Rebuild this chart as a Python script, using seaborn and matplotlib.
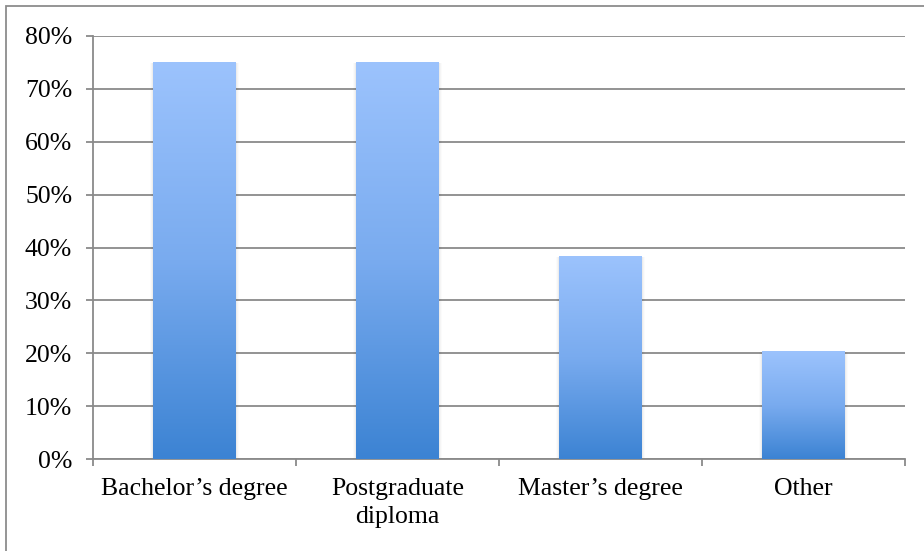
import numpy as np
import pandas as pd
import matplotlib
matplotlib.use("Agg")
import matplotlib.pyplot as plt
import seaborn as sns
from matplotlib.colors import LinearSegmentedColormap
from matplotlib.patches import Rectangle

# Qualification held by respondents (share of respondents)
categories = ["Bachelor\u2019s degree", "Postgraduate\ndiploma", "Master\u2019s degree", "Other"]
shares = [0.75, 0.75, 0.384, 0.204]
y_ticks = [0.0, 0.1, 0.2, 0.3, 0.4, 0.5, 0.6, 0.7, 0.8]
y_tick_labels = ["0%", "10%", "20%", "30%", "40%", "50%", "60%", "70%", "80%"]

df = pd.DataFrame({"category": categories, "share": shares})

sns.set_theme(style="white")
plt.rcParams["font.family"] = ["Liberation Serif", "DejaVu Serif"]

grid_col = "#8a8a8a"
fig = plt.figure(figsize=(9.24, 5.51), dpi=100)
ax = fig.add_axes([93 / 924, 1 - 459 / 551, (905 - 93) / 924, (459 - 36) / 551])

sns.barplot(data=df, x="category", y="share", width=0.405, ax=ax,
            color="#6fa3ea", saturation=1, edgecolor="none", zorder=3)

ax.set_ylim(0, 0.8)
ax.set_xlim(-0.5, len(categories) - 0.5)
ax.set_yticks(y_ticks)
ax.set_yticklabels(y_tick_labels)
ax.set_xlabel("")
ax.set_ylabel("")

# Vertical gradient fill for each bar, with a faint shadow at its sides
cmap = LinearSegmentedColormap.from_list("bar", ["#3c83d3", "#79abef", "#9cc3fd"])
grad = np.linspace(0, 1, 256).reshape(-1, 1)
for patch in list(ax.patches):
    x0, y0 = patch.get_x(), patch.get_y()
    w, h = patch.get_width(), patch.get_height()
    for i, a in enumerate([0.035, 0.025, 0.015]):
        dx = 0.005 * (i + 1)
        ax.add_patch(Rectangle((x0 - dx, y0), w + 2 * dx, h - 0.002,
                               facecolor="black", alpha=a, edgecolor="none",
                               zorder=2.5))
    patch.set_facecolor("none")
    im = ax.imshow(grad, cmap=cmap, aspect="auto", origin="lower",
                   extent=[x0, x0 + w, y0, y0 + h], zorder=3,
                   interpolation="bicubic")
    im.set_clip_path(patch)
ax.set_ylim(0, 0.8)
ax.set_xlim(-0.5, len(categories) - 0.5)

# Horizontal gridlines
ax.yaxis.grid(True, color=grid_col, linewidth=1.3, zorder=1)
ax.xaxis.grid(False)
ax.set_axisbelow(True)

for side in ["top", "right"]:
    ax.spines[side].set_visible(False)
for side in ["left", "bottom"]:
    ax.spines[side].set_visible(True)
    ax.spines[side].set_color(grid_col)
    ax.spines[side].set_linewidth(1.3)

# Category separators as outward ticks on the x axis
ax.set_xticks(np.arange(-0.5, len(categories), 1.0), minor=True)
ax.tick_params(axis="x", which="major", length=0, pad=14, labelsize=18.5,
               labelcolor="black")
ax.tick_params(axis="x", which="minor", length=5, width=1.3, color=grid_col,
               direction="out", bottom=True)
ax.tick_params(axis="y", which="major", length=5, width=1.3, color=grid_col,
               direction="out", left=True, pad=10, labelsize=18.5,
               labelcolor="black")
for lbl in ax.get_xticklabels():
    lbl.set_linespacing(1.3)
    lbl.set_verticalalignment("top")

# Chart area border
fig.patches.append(Rectangle((6 / 924, -0.05), 1.2, 1 - 6 / 551 + 0.05,
                             transform=fig.transFigure, fill=False,
                             edgecolor="#8c8c8c", linewidth=1.3))

fig.savefig("out.png", dpi=100)
